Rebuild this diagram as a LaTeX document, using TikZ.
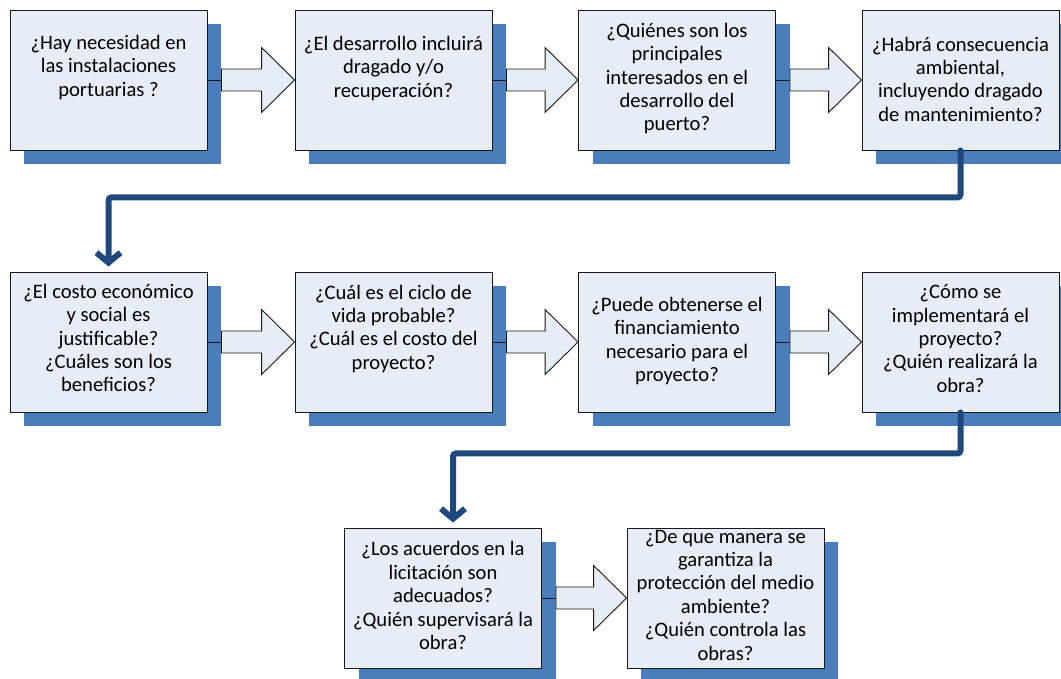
\documentclass[tikz,border=0pt]{standalone}
\usepackage{fontspec}
\setmainfont{Carlito}
\usepackage{tikz}
\usetikzlibrary{arrows.meta,calc,shadows,positioning}
\definecolor{boxfill}{RGB}{231,237,247}
\definecolor{shadowblue}{RGB}{74,126,187}
\definecolor{linkblue}{RGB}{31,73,125}
\tikzstyle{qbox} = [rectangle, draw=black!90, line width=0.9pt, fill=boxfill, minimum width=197pt, minimum height=140pt, inner sep=0pt, drop shadow={shadow xshift=14pt, shadow yshift=-14pt, fill=shadowblue, opacity=1}]
\tikzstyle{qtext} = [align=center, inner sep=0pt, font=\fontsize{20.6pt}{23.4pt}\selectfont, execute at begin node=\strut, execute at end node=\strut]
\tikzstyle{thinlink} = [draw=black!90, line width=0.9pt]
\tikzstyle{blockarrow} = [draw=black!90, line width=0.9pt, fill=boxfill, line join=miter]
\tikzstyle{link} = [draw=linkblue, line width=6pt, line cap=round, rounded corners=3pt, shorten >=5pt, -{Straight Barb[length=10pt,width=24pt]}]
\newcommand{\flowarrow}[2]{%
\draw[thinlink] (#1.east) -- ++(14,0) coordinate (#1-tail);
\draw[blockarrow] ($(#1-tail)+(0,-11)$) -- ($(#2.west)+(-33,-11)$) -- ($(#2.west)+(-33,-32.5)$) -- (#2.west) -- ($(#2.west)+(-33,32.5)$) -- ($(#2.west)+(-33,11)$) -- ($(#1-tail)+(0,11)$) -- cycle;}

\begin{document}
\begin{tikzpicture}[x=1pt,y=-1pt]
\useasboundingbox (0,0) rectangle (1061,679);
% first row
\node (r1a) at (108.5,80) [qbox] {};
\node (r1b) at (393.5,80) [qbox] {};
\node (r1c) at (677,80) [qbox] {};
\node (r1d) at (960.5,80) [qbox] {};
\node (t1a) at (108.5,69) [qtext] {¿Hay necesidad en\\las instalaciones\\portuarias ?};
\node (t1b) at (393.5,70) [qtext] {¿El desarrollo incluirá\\dragado y/o\\recuperación?};
\node (t1c) at (677,80.5) [qtext] {¿Quiénes son los\\principales\\interesados en el\\desarrollo del\\puerto?};
\node (t1d) at (960.5,82.5) [qtext] {¿Habrá consecuencia\\ambiental,\\incluyendo dragado\\de mantenimiento?};
% second row
\node (r2a) at (108.5,342) [qbox] {};
\node (r2b) at (393.5,342) [qbox] {};
\node (r2c) at (677,342) [qbox] {};
\node (r2d) at (960.5,342) [qbox] {};
\node (t2a) at (108.5,341.5) [qtext] {¿El costo económico\\y social es\\justificable?\\¿Cuáles son los\\beneficios?};
\node (t2b) at (393.5,330.5) [qtext] {¿Cuál es el ciclo de\\vida probable?\\¿Cuál es el costo del\\proyecto?};
\node (t2c) at (677,343) [qtext] {¿Puede obtenerse el\\financiamiento\\necesario para el\\proyecto?};
\node (t2d) at (960.5,342) [qtext] {¿Cómo se\\implementará el\\proyecto?\\¿Quién realizará la\\obra?};
% third row
\node (r3a) at (443,598) [qbox] {};
\node (r3b) at (725.5,598) [qbox] {};
\node (t3a) at (443,599) [qtext] {¿Los acuerdos en la\\licitación son\\adecuados?\\¿Quién supervisará la\\obra?};
\node (t3b) at (725.5,598.5) [qtext] {¿De que manera se\\garantiza la\\protección del medio\\ambiente?\\¿Quién controla las\\obras?};
% block arrows
\flowarrow{r1a}{r1b}
\flowarrow{r1b}{r1c}
\flowarrow{r1c}{r1d}
\flowarrow{r2a}{r2b}
\flowarrow{r2b}{r2c}
\flowarrow{r2c}{r2d}
\flowarrow{r3a}{r3b}
% links between rows
\draw[link] (r1d.south) -- ++(0,47) -| (r2a.north);
\draw[link] (r2d.south) -- ++(0,41) -| ([xshift=10pt]r3a.north);
\end{tikzpicture}
\end{document}
